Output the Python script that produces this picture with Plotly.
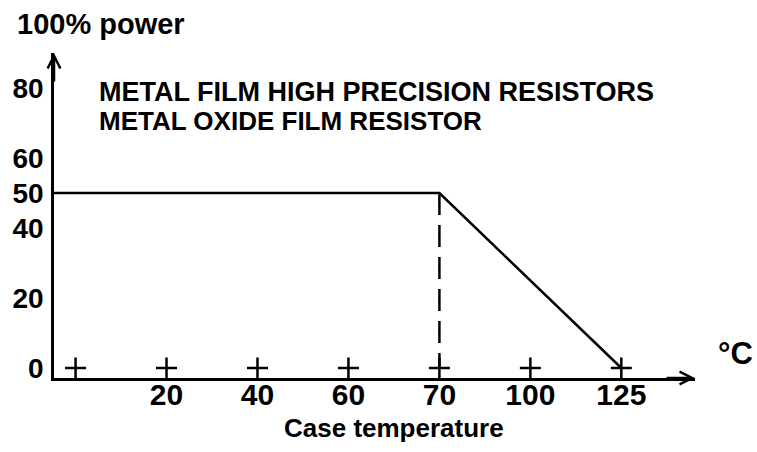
import plotly.graph_objects as go

# ---- data ----
temps = ["0", "20", "40", "60", "70", "100", "125"]          # x categories (°C)
tick_labels = ["", "20", "40", "60", "70", "100", "125"]       # labels shown under x axis
rated_power = 50                                               # % power on the plateau
knee_temp = "70"                                               # derating starts here
derating_temps = ["70", "125"]
derating_power = [50, 0]
y_ticks = [0, 20, 40, 50, 60, 80]
y_tick_labels = ["0", "20", "40", "50", "60", "80"]

# ---- layout geometry ----
W, H = 757, 452
L, R, T, B = 52, 62, 53, 74
x_range = [-0.237, 6.81]
y_range = [-2.86, 90]
FONT = "Liberation Sans, Arial, Helvetica, sans-serif"

pos = {t: i for i, t in enumerate(temps)}
xs = [pos[t] for t in temps]

def px(x):
    return (x - L) / (W - L - R)

def py(y):
    return (H - B - y) / (H - T - B)

fig = go.Figure()

# derating curve: plateau from the y axis, then linear fall
curve_x = [x_range[0]] + [pos[t] for t in derating_temps]
curve_y = [rated_power] + derating_power
fig.add_trace(go.Scatter(x=curve_x, y=curve_y, mode="lines",
                         line=dict(color="black", width=2.5),
                         hoverinfo="skip", showlegend=False))

# dashed drop line at the knee
fig.add_trace(go.Scatter(x=[pos[knee_temp], pos[knee_temp]], y=[rated_power, 0],
                         mode="lines",
                         line=dict(color="black", width=2.5, dash="22px,10px"),
                         hoverinfo="skip", showlegend=False))

# "+" marks at each temperature
fig.add_trace(go.Scatter(x=xs, y=[0] * len(xs), mode="markers",
                         marker=dict(symbol="cross-thin", size=15,
                                     line=dict(color="black", width=2.5)),
                         hoverinfo="skip", showlegend=False, cliponaxis=False))

fig.update_layout(
    width=W, height=H,
    margin=dict(l=L, r=R, t=T, b=B),
    paper_bgcolor="white", plot_bgcolor="white",
    font=dict(family=FONT, color="black", weight="bold"),
    xaxis=dict(range=x_range, showgrid=False, zeroline=False,
               showline=True, linecolor="black", linewidth=2.5,
               tickvals=xs, ticktext=tick_labels, ticks="",
               tickfont=dict(size=30, family=FONT, color="black", weight="bold"),
               ticklabelstandoff=-12),
    yaxis=dict(range=y_range, showgrid=False, zeroline=False,
               showline=True, linecolor="black", linewidth=2.5,
               tickvals=y_ticks, ticktext=y_tick_labels, ticks="",
               tickfont=dict(size=28, family=FONT, color="black", weight="bold"),
               ticklabelstandoff=2),
)

annotations = [
    # axis arrowheads
    dict(x=1, y=0, xref="paper", yref="paper", ax=-30, ay=0, text="",
         showarrow=True, arrowhead=5, arrowsize=1, arrowwidth=2.5, arrowcolor="black"),
    dict(x=0, y=1, xref="paper", yref="paper", ax=0, ay=30, text="",
         showarrow=True, arrowhead=5, arrowsize=1, arrowwidth=2.5, arrowcolor="black"),
    # texts
    dict(x=px(99), y=py(24), xref="paper", yref="paper", text="100% power",
         showarrow=False, xanchor="center", yanchor="middle", font=dict(size=29)),
    dict(x=px(95), y=py(92), xref="paper", yref="paper",
         text="METAL FILM HIGH PRECISION RESISTORS",
         showarrow=False, xanchor="left", yanchor="middle", font=dict(size=27)),
    dict(x=px(95), y=py(121), xref="paper", yref="paper",
         text="METAL OXIDE FILM RESISTOR",
         showarrow=False, xanchor="left", yanchor="middle", font=dict(size=26)),
    dict(x=px(393), y=py(428), xref="paper", yref="paper", text="Case temperature",
         showarrow=False, xanchor="center", yanchor="middle", font=dict(size=26)),
    dict(x=px(736), y=py(353), xref="paper", yref="paper", text="°C",
         showarrow=False, xanchor="center", yanchor="middle", font=dict(size=31)),
]
fig.update_layout(annotations=annotations)

fig.write_html("out.html")
